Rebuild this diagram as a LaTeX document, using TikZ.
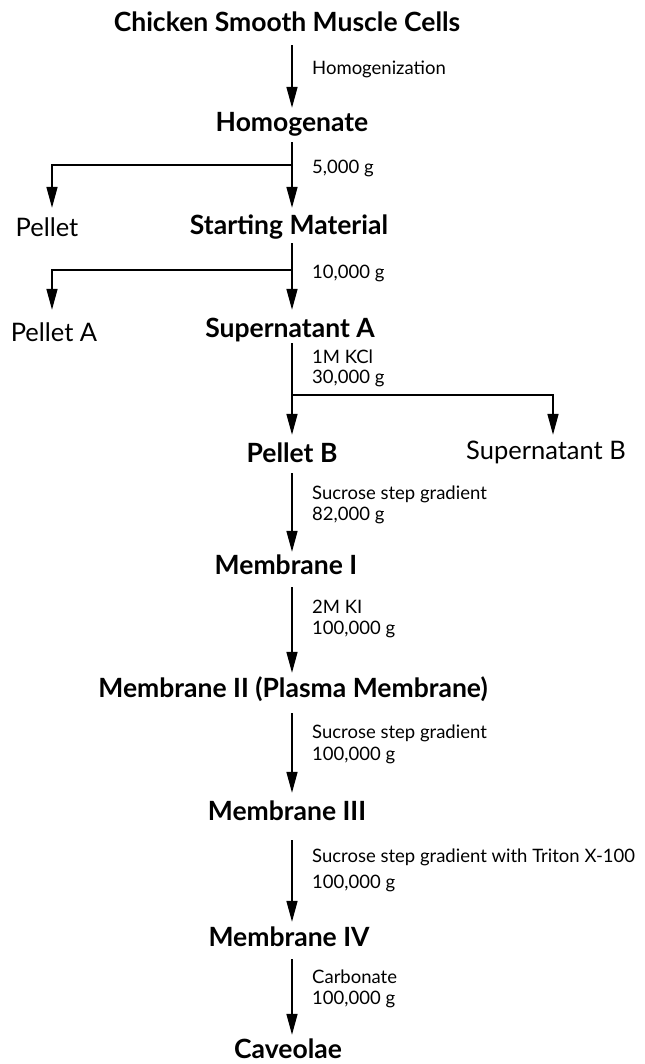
\documentclass[tikz,border=0pt]{standalone}
\usepackage{fontspec}
\setmainfont{Lato}
\usetikzlibrary{arrows.meta}
\begin{document}
\begin{tikzpicture}[x=1bp,y=-1bp,
  main/.style={inner sep=0pt,text height=18bp,text depth=0pt,font=\fontsize{26.5bp}{30bp}\selectfont\bfseries},
  side/.style={inner sep=0pt,text height=18bp,text depth=0pt,font=\fontsize{25.5bp}{30bp}\selectfont},
  cond/.style={inner sep=0pt,anchor=base west,font=\fontsize{18.5bp}{22bp}\selectfont},
  arr/.style={line width=1.6bp,-{Triangle[length=21bp,width=11bp]}}]
\useasboundingbox (0,0) rectangle (645,1064);
\coordinate (sp) at (292,0);
% main nodes
\node[main] (t0) at (287,22) {Chicken Smooth Muscle Cells};
\node[main] (t1) at (292,122) {Homogenate};
\node[main] (t2) at (289,225) {Starting Material};
\node[side] (p1) at (47,227) {Pellet};
\node[main] (t3) at (290,328) {Supernatant A};
\node[side] (p2) at (54,332) {Pellet A};
\node[main] (t4) at (292,453) {Pellet B};
\node[side] (s2) at (546,450) {Supernatant B};
\node[main] (t5) at (286,565) {Membrane I};
\node[main] (t6) at (293,688) {Membrane II (Plasma Membrane)};
\node[main] (t7) at (287,811) {Membrane III};
\node[main] (t8) at (289,937) {Membrane IV};
\node[main] (t9) at (288,1049) {Caveolae};
% condition labels
\node[cond] (c1) at (312,74) {Homogenization};
\node[cond] (c2) at (312,173) {5,000 g};
\node[cond] (c3) at (312,278) {10,000 g};
\node[cond] (c4a) at (312,363) {1M KCl};
\node[cond] (c4b) at (312,383) {30,000 g};
\node[cond] (c5a) at (312,499) {Sucrose step gradient};
\node[cond] (c5b) at (312,520) {82,000 g};
\node[cond] (c6a) at (312,613) {2M KI};
\node[cond] (c6b) at (312,634) {100,000 g};
\node[cond] (c7a) at (312,738) {Sucrose step gradient};
\node[cond] (c7b) at (312,760) {100,000 g};
\node[cond] (c8a) at (312,862) {Sucrose step gradient with Triton X-100};
\node[cond] (c8b) at (312,888) {100,000 g};
\node[cond] (c9a) at (312,983) {Carbonate};
\node[cond] (c9b) at (312,1004) {100,000 g};
% branch points
\coordinate (b1) at (292,165);
\coordinate (b2) at (292,270);
\coordinate (b3) at (292,395);
% arrows
\draw[arr,shorten <=14bp,shorten >=5bp] (t0.south -| sp) -- (t1.north -| sp);
\draw[arr,shorten <=11bp,shorten >=8bp] (t1.south -| sp) -- (t2.north -| sp);
\draw[arr,shorten >=10bp] (b1) -| ([xshift=5bp]p1.north);
\draw[arr,shorten <=9bp,shorten >=9bp] (t2.south -| sp) -- (t3.north -| sp);
\draw[arr,shorten >=13bp] (b2) -| ([xshift=-2bp]p2.north);
\draw[arr,shorten <=6bp,shorten >=9bp] (t3.south -| sp) -- (t4.north -| sp);
\draw[arr,shorten >=6bp] (b3) -| ([xshift=7bp]s2.north);
\draw[arr,shorten <=11bp,shorten >=4bp] (t4.south -| sp) -- (t5.north -| sp);
\draw[arr,shorten <=13bp,shorten >=6bp] (t5.south -| sp) -- (t6.north -| sp);
\draw[arr,shorten <=16bp,shorten >=9bp] (t6.south -| sp) -- (t7.north -| sp);
\draw[arr,shorten <=20bp,shorten >=6bp] (t7.south -| sp) -- (t8.north -| sp);
\draw[arr,shorten <=13bp,shorten >=5bp] (t8.south -| sp) -- (t9.north -| sp);
\end{tikzpicture}
\end{document}
